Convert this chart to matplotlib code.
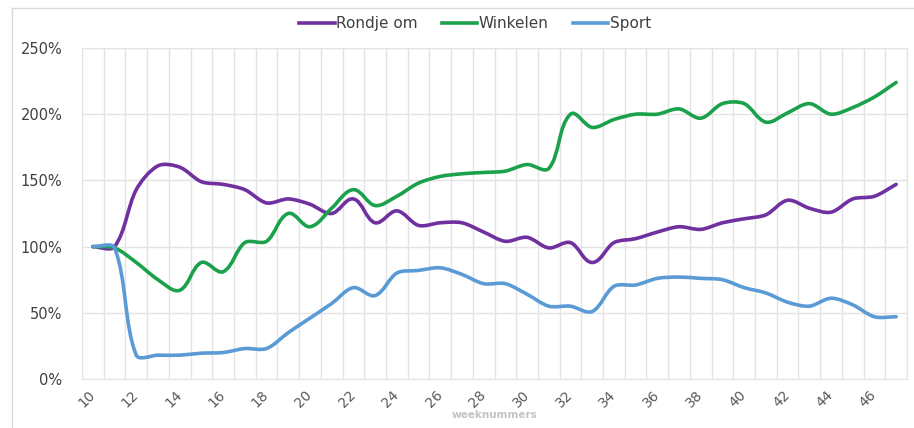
import numpy as np
import matplotlib.pyplot as plt
from matplotlib.path import Path
from matplotlib.patches import PathPatch
from matplotlib.lines import Line2D
from matplotlib.ticker import FuncFormatter

weeks = list(range(10, 48))
rondje_om = [100, 100, 143, 161, 160, 149, 147, 143, 133, 136, 132, 125, 136, 118, 127, 116, 118, 118, 111,
             104, 107, 99, 103, 88, 103, 106, 111, 115, 113, 118, 121, 124, 135, 129, 126, 136, 138, 147]
winkelen = [100, 99, 88, 75, 67, 88, 81, 103, 104, 125, 115, 129, 143, 131, 138, 148, 153, 155, 156,
            157, 162, 159, 200, 190, 196, 200, 200, 204, 197, 208, 208, 194, 201, 208, 200, 205, 213, 224]
sport = [100, 99, 18, 18, 18, 19.5, 20, 23, 23, 35, 46, 57, 69, 63, 80, 82, 84, 79, 72,
         72, 64, 55, 55, 51, 70, 71, 76, 77, 76, 75, 69, 65, 58, 55, 61, 56, 47, 47]
series = ['Rondje om', 'Winkelen', 'Sport']
colors = ['#7030A0', '#1BA14B', '#5B9BD5']

ASPECT = 16.4  # px per week / px per percent, so smoothing works in screen-like space


def smooth_path(x, y, k=0.3):
    # excel-like smoothed line: bezier segments, tangent length scaled to segment length
    p = np.column_stack([np.asarray(x, float) * ASPECT, y]).astype(float)
    n = len(p)
    tang = np.zeros_like(p)
    for i in range(n):
        d = p[min(i + 1, n - 1)] - p[max(i - 1, 0)]
        tang[i] = d / np.linalg.norm(d)
    verts = [p[0]]
    codes = [Path.MOVETO]
    for i in range(n - 1):
        L = np.linalg.norm(p[i + 1] - p[i])
        verts += [p[i] + tang[i] * L * k, p[i + 1] - tang[i + 1] * L * k, p[i + 1]]
        codes += [Path.CURVE4] * 3
    v = np.array(verts)
    v[:, 0] /= ASPECT
    return Path(v, codes)


fig = plt.figure(figsize=(9.14, 4.28), dpi=100)
ax = fig.add_axes([82 / 914, 1 - 379 / 428, 825 / 914, 331 / 428])

for name, vals, c in zip(series, [rondje_om, winkelen, sport], colors):
    ax.add_patch(PathPatch(smooth_path(weeks, vals), fill=False, edgecolor=c, lw=2.6,
                           capstyle='round', joinstyle='round', zorder=3))

ax.set_xlim(weeks[0] - 0.5, weeks[-1] + 0.5)
ax.set_ylim(0, 250)
ax.set_yticks(np.arange(0, 251, 50))
ax.yaxis.set_major_formatter(FuncFormatter(lambda v, _: f'{v:.0f}%'))
ax.set_xticks(weeks[::2])
ax.set_xticks(np.arange(weeks[0] - 0.5, weeks[-1] + 1, 1), minor=True)
ax.tick_params(which='both', length=0)
ax.tick_params(axis='y', labelsize=10.5, labelcolor='#404040', pad=14)
ax.tick_params(axis='x', labelsize=10, labelcolor='#595959', pad=10)
for lab in ax.get_xticklabels():
    lab.set_rotation(45)
    lab.set_ha('right')
    lab.set_va('center')
    lab.set_rotation_mode('anchor')
ax.grid(which='minor', axis='x', color='#E3E3E3', lw=1)
ax.grid(which='major', axis='y', color='#E3E3E3', lw=1)
for s in ax.spines.values():
    s.set_color('#E3E3E3')

handles = [Line2D([], [], color=c, lw=2.6) for c in colors]
fig.legend(handles, series, loc='center', bbox_to_anchor=(0.52, 0.944), ncol=3, frameon=False,
           handlelength=2.3, handletextpad=0.1, columnspacing=1.6, fontsize=11, labelcolor='#404040')
fig.text(495 / 914, 1 - 415 / 428, 'weeknummers', ha='center', va='center', fontsize=7.5,
         fontweight='bold', color='#C4C4C4')

# chart frame
fig.add_artist(Line2D([12 / 914, 12 / 914], [0, 1 - 8 / 428], transform=fig.transFigure, color='#D9D9D9', lw=1))
fig.add_artist(Line2D([12 / 914, 1], [1 - 8 / 428, 1 - 8 / 428], transform=fig.transFigure, color='#D9D9D9', lw=1))

plt.savefig('out.png', dpi=100)
